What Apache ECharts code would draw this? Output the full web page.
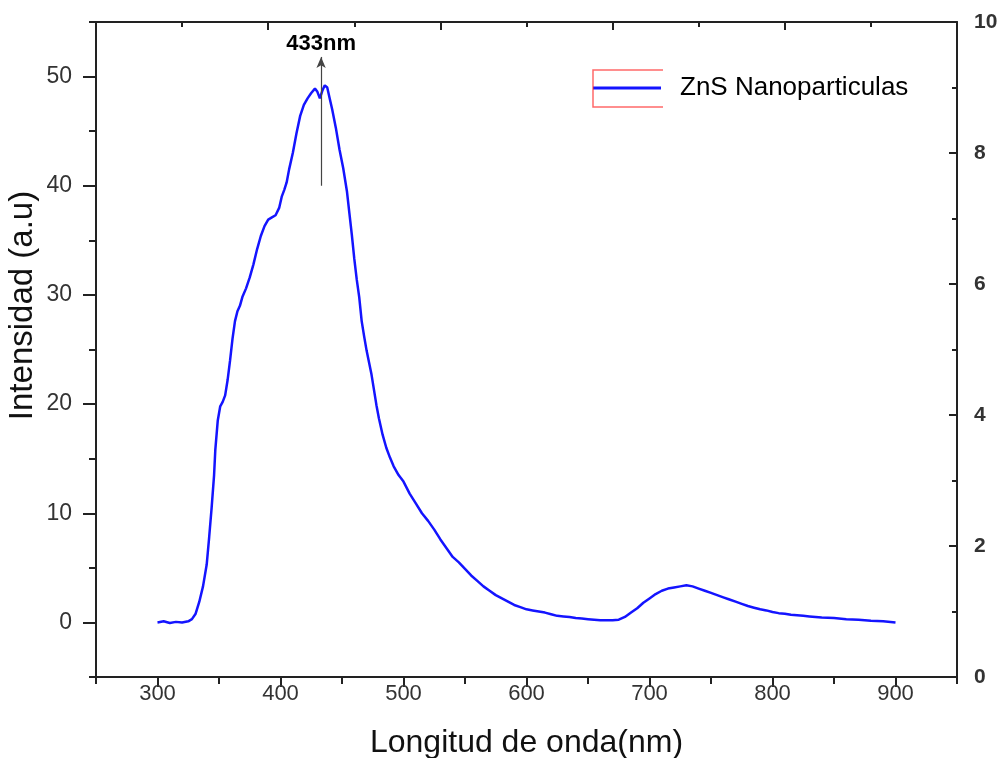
<!DOCTYPE html>
<html>
<head>
<meta charset="utf-8">
<script src="https://cdn.jsdelivr.net/npm/echarts@6/dist/echarts.min.js"></script>
<style>
html,body{margin:0;padding:0;background:#fff;}
#chart{width:1004px;height:758px;}
</style>
</head>
<body>
<div id="chart"></div>
<script>
// ---- data ----
var wavelength = [300,305,310,315,320,325,328,331,334,337,340,342,344,346,347,349,351,353,355,357,359,361,363,365,367,369,372,375,378,381,384,387,390,393,396,399,401,403,405,407,410,413,416,419,422,425,428,430,432,434,436,438,440,442,445,448,451,454,456,458,460,462,464,466,468,470,472,474,476,478,480,483,486,489,492,496,500,505,510,515,520,525,530,535,540,545,550,555,560,565,570,575,580,585,590,595,600,605,610,615,620,625,630,635,640,645,650,655,660,665,670,675,680,685,690,695,700,705,710,715,720,725,730,735,740,745,750,755,760,765,770,775,780,785,790,795,800,805,810,815,820,825,830,840,850,860,870,880,890,900];
var intensity = [0.0,0.1,-0.05,0.05,0.0,0.1,0.3,0.8,1.9,3.3,5.3,7.8,10.5,13.5,15.8,18.5,19.8,20.2,20.8,22.2,24.0,26.0,27.6,28.5,29.0,29.8,30.6,31.6,32.8,34.2,35.4,36.3,36.9,37.1,37.3,38.0,39.0,39.6,40.3,41.5,43.0,44.8,46.4,47.4,48.0,48.5,48.9,48.6,48.0,48.7,49.2,49.0,48.0,47.0,45.3,43.3,41.6,39.5,37.5,35.5,33.3,31.4,29.8,27.6,26.2,24.9,23.8,22.7,21.3,19.9,18.7,17.2,16.0,15.1,14.3,13.5,12.9,11.8,10.9,10.0,9.3,8.5,7.6,6.8,6.0,5.5,4.9,4.3,3.8,3.3,2.9,2.5,2.2,1.9,1.6,1.4,1.2,1.1,1.0,0.9,0.75,0.6,0.55,0.5,0.4,0.35,0.3,0.25,0.2,0.2,0.2,0.25,0.5,0.9,1.3,1.8,2.2,2.6,2.9,3.1,3.2,3.3,3.4,3.3,3.1,2.9,2.7,2.5,2.3,2.1,1.9,1.7,1.5,1.35,1.2,1.1,0.95,0.85,0.8,0.7,0.65,0.6,0.55,0.45,0.4,0.3,0.25,0.15,0.1,0.0];
var seriesName = 'ZnS Nanoparticulas';
var xMajorTicks = [300,400,500,600,700,800,900];
var xMinorTicks = [250,350,450,550,650,750,850,950];
var yMajorTicks = [0,10,20,30,40,50];
var yMinorTicks = [-5,5,15,25,35,45,55];
var peakWavelength = 433;
var peakLabel = '433nm';
var arrowFrom = 40;
var arrowTo = 51.8;

var points = wavelength.map(function(w,i){ return [w, intensity[i]]; });
var axisColor = '#222';
var font = 'Liberation Sans, Arial, sans-serif';

var chart = echarts.init(document.getElementById('chart'), null, {renderer:'canvas'});
chart.setOption({
  animation: false,
  backgroundColor: '#fff',
  grid: {left: 96, right: 47, top: 22, bottom: 81, outerBoundsMode: 'none'},
  legend: {
    left: 593, top: 64, padding: 0,
    icon: 'rect', itemWidth: 68, itemHeight: 3, itemGap: 10,
    textStyle: {fontFamily: font, fontSize: 26, color: '#000', lineHeight: 30, padding: [18,0,0,14]},
    data: [seriesName]
  },
  graphic: [{
    type: 'polyline', silent: true, z: 100,
    shape: {points: [[663,70],[593,70],[593,107],[663,107]]},
    style: {stroke: 'rgba(255,40,40,0.7)', lineWidth: 1.5, fill: null}
  }],
  xAxis: [{
    type: 'value', position: 'bottom', min: 250, max: 950,
    name: 'Longitud de onda(nm)', nameLocation: 'middle', nameGap: 50, nameMoveOverlap: false,
    nameTextStyle: {fontFamily: font, fontSize: 32, color: '#111'},
    axisLine: {show: true, onZero: false, lineStyle: {color: axisColor, width: 2}},
    axisTick: {show: true, inside: false, length: 10, customValues: xMajorTicks, lineStyle: {color: axisColor, width: 2}},
    axisLabel: {show: true, customValues: xMajorTicks, fontFamily: font, fontSize: 22, color: '#333', margin: 6},
    splitLine: {show: false}
  },{
    type: 'value', position: 'bottom', min: 250, max: 950,
    axisLine: {show: false, onZero: false},
    axisTick: {show: true, inside: false, length: 7, customValues: xMinorTicks, lineStyle: {color: axisColor, width: 2}},
    axisLabel: {show: false},
    splitLine: {show: false}
  },{
    type: 'value', position: 'top', min: 0, max: 10, interval: 2,
    axisLine: {show: true, onZero: false, lineStyle: {color: axisColor, width: 2}},
    axisTick: {show: true, inside: true, length: 8, lineStyle: {color: axisColor, width: 2}},
    minorTick: {show: true, splitNumber: 2, length: 5, lineStyle: {color: axisColor, width: 2}},
    axisLabel: {show: false},
    splitLine: {show: false}
  }],
  yAxis: [{
    type: 'value', position: 'left', min: -5, max: 55,
    name: 'Intensidad (a.u)', nameLocation: 'middle', nameGap: 57, nameMoveOverlap: false,
    nameTextStyle: {fontFamily: font, fontSize: 33, color: '#111', padding: [0,0,0,88]},
    axisLine: {show: true, onZero: false, lineStyle: {color: axisColor, width: 2}},
    axisTick: {show: true, inside: false, length: 13, customValues: yMajorTicks, lineStyle: {color: axisColor, width: 2}},
    axisLabel: {show: true, customValues: yMajorTicks, fontFamily: font, fontSize: 23, color: '#333', margin: 24},
    splitLine: {show: false}
  },{
    type: 'value', position: 'left', min: -5, max: 55,
    axisLine: {show: false, onZero: false},
    axisTick: {show: true, inside: false, length: 7, customValues: yMinorTicks, lineStyle: {color: axisColor, width: 2}},
    axisLabel: {show: false},
    splitLine: {show: false}
  },{
    type: 'value', position: 'right', min: 0, max: 10, interval: 2,
    axisLine: {show: true, onZero: false, lineStyle: {color: axisColor, width: 2}},
    axisTick: {show: true, inside: true, length: 8, lineStyle: {color: axisColor, width: 2}},
    minorTick: {show: true, splitNumber: 2, length: 5, lineStyle: {color: axisColor, width: 2}},
    axisLabel: {show: true, fontFamily: font, fontSize: 21, fontWeight: 'bold', color: '#333', margin: 17},
    splitLine: {show: false}
  }],
  series: [{
    name: seriesName, type: 'line', xAxisIndex: 0, yAxisIndex: 0,
    data: points, showSymbol: false, symbol: 'none',
    lineStyle: {color: '#1414ff', width: 2.5},
    itemStyle: {color: '#1414ff'},
    markLine: {
      silent: true, animation: false,
      symbol: ['none', 'arrow'], symbolSize: [7, 11],
      lineStyle: {color: '#444', width: 1.2, type: 'solid'},
      label: {show: true, position: 'end', formatter: peakLabel, fontFamily: font, fontSize: 22, fontWeight: 'bold', color: '#000', distance: 2},
      data: [[{coord: [peakWavelength, arrowFrom]}, {coord: [peakWavelength, arrowTo]}]]
    }
  }]
});
</script>
</body>
</html>
